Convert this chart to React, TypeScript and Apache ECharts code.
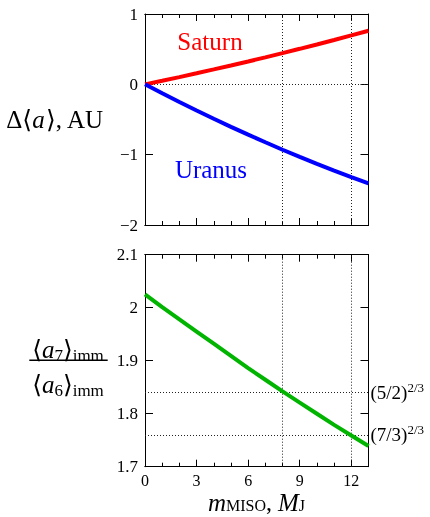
import React, { useEffect, useRef } from 'react';
import * as echarts from 'echarts';

// m_MISO in Jupiter masses
const massValues = [0, 1, 2, 3, 4, 5, 6, 7, 8, 9, 10, 11, 12, 13];
// Δ<a>, AU
const saturnShift = [0, 0.051, 0.103, 0.157, 0.212, 0.268, 0.325, 0.384, 0.444, 0.505, 0.567, 0.631, 0.696, 0.762];
const uranusShift = [0, -0.127, -0.251, -0.372, -0.49, -0.604, -0.716, -0.824, -0.93, -1.032, -1.131, -1.227, -1.32, -1.409];
// <a7>/<a6>
const periodRatio = [2.025, 2.001, 1.978, 1.955, 1.932, 1.909, 1.886, 1.864, 1.842, 1.821, 1.8, 1.779, 1.759, 1.739];

const refMasses = [8, 12];
const refRatioValues = [1.842, 1.759];
const refRatioLabels = ['(5/2)', '(7/3)'];
const refRatioExps = ['2/3', '2/3'];

const xMajorTicks = [0, 3, 6, 9, 12];

const SERIF = '"Liberation Serif", "DejaVu Serif", serif';

export default function App() {
  const ref = useRef<HTMLDivElement>(null);
  useEffect(() => {
    const chart = echarts.init(ref.current!, null, { renderer: 'svg' });
    const G0 = { left: 145, top: 14, width: 223.5, height: 211 };
    const G1 = { left: 145, top: 254.7, width: 223.5, height: 212 };
    const axisLine = { show: true, onZero: false, lineStyle: { color: '#000', width: 1 } };
    const mkX = (gridIndex: number, position: string, interval: number, len: number, labels: boolean) => ({
      type: 'value',
      gridIndex,
      position,
      min: 0,
      max: 13,
      interval,
      axisLine,
      axisTick: { show: true, inside: true, length: len, lineStyle: { color: '#000', width: 1 } },
      axisLabel: labels
        ? {
            show: true,
            margin: 6,
            fontSize: 16,
            fontFamily: SERIF,
            color: '#000',
            showMaxLabel: false,
            formatter: (v: number) => (xMajorTicks.indexOf(v) >= 0 ? String(v) : ''),
          }
        : { show: false },
      splitLine: { show: false },
    });
    const mkY = (gridIndex: number, position: string, min: number, max: number, interval: number, labels: boolean, fmt: (v: number) => string) => ({
      type: 'value',
      gridIndex,
      position,
      min,
      max,
      interval,
      axisLine,
      axisTick: { show: true, inside: true, length: 8, lineStyle: { color: '#000', width: 1 } },
      axisLabel: labels
        ? { show: true, margin: 7, fontSize: 17, fontFamily: SERIF, color: '#000', formatter: fmt }
        : { show: false },
      splitLine: { show: false },
    });
    const topFmt = (v: number) => (v < 0 ? '\u2212' + Math.abs(v) : String(v));
    const botFmt = (v: number) => String(Number(v.toFixed(1)));
    const dotted = { color: '#222', width: 1, type: [1, 2] as any };

    const rich = {
      n: { fontSize: 25, fontFamily: SERIF, color: '#000', lineHeight: 30, verticalAlign: 'middle' },
      i: { fontSize: 25, fontFamily: SERIF, fontStyle: 'italic', color: '#000', lineHeight: 30, verticalAlign: 'middle' },
      s: { fontSize: 17, fontFamily: SERIF, color: '#000', lineHeight: 15, verticalAlign: 'bottom' },
    };
    const xRich = {
      n: { fontSize: 24, fontFamily: SERIF, color: '#000', lineHeight: 22, verticalAlign: 'middle' },
      i: { fontSize: 25, fontFamily: SERIF, fontStyle: 'italic', color: '#000', lineHeight: 22, verticalAlign: 'middle' },
      s: { fontSize: 16, fontFamily: SERIF, color: '#000', lineHeight: 10, verticalAlign: 'bottom' },
    };

    chart.setOption({
      animation: false,
      grid: [G0, G1],
      xAxis: [
        mkX(0, 'bottom', 1, 4, false),
        mkX(0, 'bottom', 3, 7, false),
        mkX(0, 'top', 1, 4, false),
        mkX(0, 'top', 3, 7, false),
        mkX(1, 'bottom', 1, 4, false),
        mkX(1, 'bottom', 3, 7, true),
        mkX(1, 'top', 1, 4, false),
        mkX(1, 'top', 3, 7, false),
      ],
      yAxis: [
        mkY(0, 'left', -2, 1, 1, true, topFmt),
        mkY(0, 'right', -2, 1, 1, false, topFmt),
        mkY(1, 'left', 1.7, 2.1, 0.1, true, botFmt),
        mkY(1, 'right', 1.7, 2.1, 0.1, false, botFmt),
      ],
      series: [
        {
          type: 'line',
          name: 'Saturn',
          xAxisIndex: 0,
          yAxisIndex: 0,
          data: massValues.map((m, k) => [m, saturnShift[k]]),
          showSymbol: false,
          lineStyle: { color: '#ff0000', width: 4 },
          z: 5,
          markLine: {
            silent: true,
            symbol: ['none', 'none'],
            lineStyle: dotted,
            label: { show: false },
            data: [...refMasses.map((m) => ({ xAxis: m })), { yAxis: 0 }],
          },
        },
        {
          type: 'line',
          name: 'Uranus',
          xAxisIndex: 0,
          yAxisIndex: 0,
          data: massValues.map((m, k) => [m, uranusShift[k]]),
          showSymbol: false,
          lineStyle: { color: '#0000ff', width: 4 },
          z: 5,
        },
        {
          type: 'line',
          name: 'ratio',
          xAxisIndex: 4,
          yAxisIndex: 2,
          data: massValues.map((m, k) => [m, periodRatio[k]]),
          showSymbol: false,
          lineStyle: { color: '#00b400', width: 4 },
          z: 5,
          markLine: {
            silent: true,
            symbol: ['none', 'none'],
            lineStyle: dotted,
            label: { show: false },
            data: [
              ...refMasses.map((m) => ({ xAxis: m })),
              ...refRatioValues.map((v, k) => ({
                yAxis: v,
                label: {
                  show: true,
                  position: 'end',
                  distance: 2,
                  formatter: '{n|' + refRatioLabels[k] + '}{s|' + refRatioExps[k] + '}',
                  rich: {
                    n: { fontSize: 19, fontFamily: SERIF, color: '#000', lineHeight: 24, verticalAlign: 'middle' },
                    s: { fontSize: 13, fontFamily: SERIF, color: '#000', lineHeight: 13, verticalAlign: 'top' },
                  },
                },
              })),
            ],
          },
        },
      ],
      graphic: [
        {
          type: 'text',
          x: 210,
          y: 41,
          style: { text: 'Saturn', fill: '#ff0000', fontSize: 25, fontFamily: SERIF, align: 'center', verticalAlign: 'middle' },
        },
        {
          type: 'text',
          x: 211,
          y: 169,
          style: { text: 'Uranus', fill: '#0000ff', fontSize: 25, fontFamily: SERIF, align: 'center', verticalAlign: 'middle' },
        },
        {
          type: 'text',
          x: 103,
          y: 119,
          style: { text: '{n|\u0394\u27e8}{i|a}{n|\u27e9, AU}', rich, align: 'right', verticalAlign: 'middle' },
        },
        {
          type: 'text',
          x: 68,
          y: 349,
          style: { text: '{n|\u27e8}{i|a}{s|7}{n|\u27e9}{s|imm}', rich, align: 'center', verticalAlign: 'middle' },
        },
        {
          type: 'line',
          shape: { x1: 29.3, y1: 360.3, x2: 107.7, y2: 360.3 },
          style: { stroke: '#000', lineWidth: 1.5 },
        },
        {
          type: 'text',
          x: 68,
          y: 384,
          style: { text: '{n|\u27e8}{i|a}{s|6}{n|\u27e9}{s|imm}', rich, align: 'center', verticalAlign: 'middle' },
        },
        {
          type: 'text',
          x: 256.5,
          y: 502,
          style: { text: '{i|m}{s|MISO}{n|, }{i|M}{s|J}', rich: xRich, align: 'center', verticalAlign: 'middle' },
        },
      ],
    });
    return () => chart.dispose();
  }, []);
  return <div ref={ref} style={{ position: 'fixed', left: 0, top: 0, width: 430, height: 517 }} />;
}
